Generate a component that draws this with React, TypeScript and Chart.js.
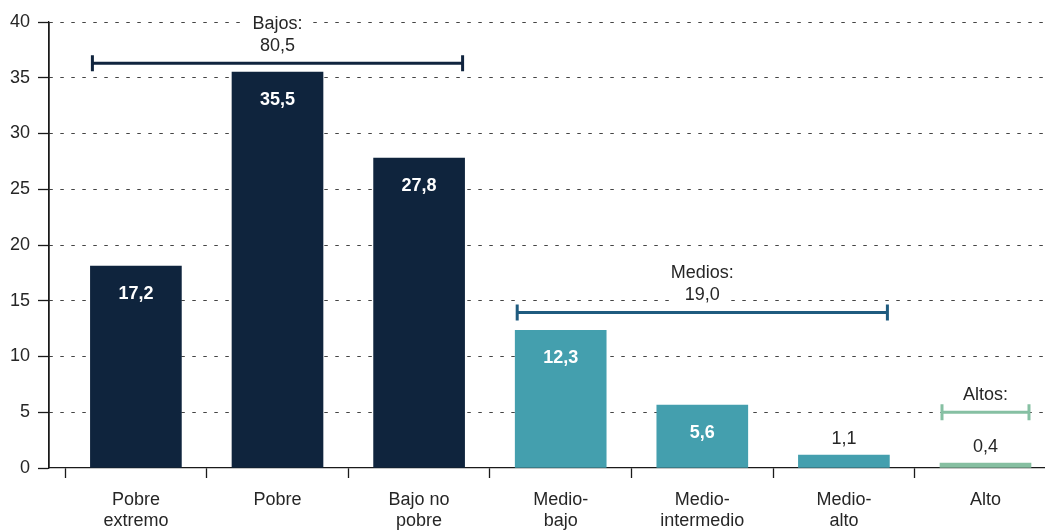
import React, { useEffect, useRef } from "react";
import { Chart, registerables } from "chart.js";

Chart.register(...registerables);

// ---- Data ----
const categories: string[][] = [
  ["Pobre", "extremo"],
  ["Pobre"],
  ["Bajo no", "pobre"],
  ["Medio-", "bajo"],
  ["Medio-", "intermedio"],
  ["Medio-", "alto"],
  ["Alto"],
];
// bar heights as drawn in the picture
const barValues: number[] = [18.1, 35.5, 27.8, 12.35, 5.65, 1.15, 0.45];
// value labels as printed
const valueLabels: string[] = ["17,2", "35,5", "27,8", "12,3", "5,6", "1,1", "0,4"];
const barColors: string[] = [
  "#0f243d", "#0f243d", "#0f243d",
  "#449fae", "#449fae", "#449fae",
  "#86bfa1",
];

const groupNames: string[] = ["Bajos:", "Medios:", "Altos:"];
const groupTotals: string[] = ["80,5", "19,0", ""];
const groupStart: number[] = [0, 3, 6];
const groupEnd: number[] = [2, 5, 6];
const groupLevel: number[] = [36.3, 13.95, 5.0];
const groupColors: string[] = ["#10243e", "#1f5b7f", "#86c0a3"];

const yTicks: number[] = [0, 5, 10, 15, 20, 25, 30, 35, 40];

const FONT = "'Liberation Sans', Arial, sans-serif";
const TEXT = "#262626";
const AXIS = "#1a1a1a";

const annotationPlugin = {
  id: "annots",
  beforeDatasetsDraw(chart: any) {
    // solid y-axis line
    const ctx = chart.ctx as CanvasRenderingContext2D;
    const a = chart.chartArea;
    ctx.save();
    ctx.setLineDash([]);
    ctx.strokeStyle = AXIS;
    ctx.lineWidth = 1.3;
    ctx.beginPath();
    ctx.moveTo(a.left, a.top);
    ctx.lineTo(a.left, a.bottom);
    ctx.stroke();
    ctx.restore();
  },
  afterDatasetsDraw(chart: any) {
    const ctx = chart.ctx as CanvasRenderingContext2D;
    const meta = chart.getDatasetMeta(0);
    const yScale = chart.scales.y;
    ctx.save();
    ctx.setLineDash([]);
    ctx.lineDashOffset = 0;
    // value labels
    meta.data.forEach((bar: any, i: number) => {
      const v = barValues[i];
      ctx.textAlign = "center";
      ctx.textBaseline = "alphabetic";
      if (v > 3) {
        ctx.font = `bold 18px ${FONT}`;
        ctx.fillStyle = "#ffffff";
        ctx.fillText(valueLabels[i], bar.x, bar.y + 33);
      } else {
        ctx.font = `18px ${FONT}`;
        ctx.fillStyle = TEXT;
        ctx.fillText(valueLabels[i], bar.x, bar.y - 11);
      }
    });
    // group brackets
    groupNames.forEach((name, g) => {
      const s = meta.data[groupStart[g]];
      const e = meta.data[groupEnd[g]];
      const x1 = s.x - s.width / 2 + 2;
      const x2 = e.x + e.width / 2 - 2;
      const y = yScale.getPixelForValue(groupLevel[g]);
      ctx.strokeStyle = groupColors[g];
      ctx.lineWidth = 3;
      ctx.lineCap = "butt";
      ctx.beginPath();
      ctx.moveTo(x1, y);
      ctx.lineTo(x2, y);
      ctx.moveTo(x1, y - 8);
      ctx.lineTo(x1, y + 8);
      ctx.moveTo(x2, y - 8);
      ctx.lineTo(x2, y + 8);
      ctx.stroke();

      const mid = meta.data[Math.floor((groupStart[g] + groupEnd[g]) / 2)];
      const lines = [name, groupTotals[g]].filter((t) => t !== "");
      ctx.font = `18px ${FONT}`;
      ctx.textAlign = "center";
      ctx.textBaseline = "alphabetic";
      lines.forEach((t, i) => {
        const base = y - 12 - (lines.length - 1 - i) * 22;
        const w = ctx.measureText(t).width;
        ctx.fillStyle = "#ffffff";
        ctx.fillRect(mid.x - w / 2 - 10, base - 15, w + 20, 19);
        ctx.fillStyle = TEXT;
        ctx.fillText(t, mid.x, base);
      });
    });
    ctx.restore();
  },
};

export default function App() {
  const ref = useRef<HTMLCanvasElement | null>(null);

  useEffect(() => {
    if (!ref.current) return;
    const xTickValues = categories.map((_, i) => i - 0.5);
    const chart = new Chart(ref.current, {
      type: "bar",
      data: {
        datasets: [
          {
            data: barValues.map((v, i) => ({ x: i, y: v })),
            backgroundColor: barColors,
            borderWidth: 0,
            barThickness: 91,
          },
        ],
      },
      plugins: [annotationPlugin],
      options: {
        animation: false,
        responsive: false,
        maintainAspectRatio: false,
        layout: { padding: { top: 22, left: 0, right: 0, bottom: 0 } },
        plugins: {
          legend: { display: false },
          tooltip: { enabled: false },
        },
        scales: {
          x: {
            type: "linear",
            min: -0.6137,
            max: 6.4202,
            offset: false,
            afterBuildTicks: (scale: any) => {
              scale.ticks = xTickValues.map((v) => ({ value: v }));
            },
            afterFit: (scale: any) => {
              scale.height = 64;
              scale.paddingLeft = 0;
              scale.paddingRight = 0;
            },
            grid: {
              offset: false,
              drawOnChartArea: false,
              drawTicks: true,
              tickLength: 10,
              tickColor: AXIS,
              tickWidth: 1.3,
              tickBorderDash: [],
            },
            border: { display: true, color: AXIS, width: 1.3 },
            ticks: {
              autoSkip: false,
              maxRotation: 0,
              minRotation: 0,
              padding: 12,
              labelOffset: 70.8,
              color: TEXT,
              font: { family: FONT, size: 18, lineHeight: 1.15 },
              callback: (_v: any, i: number) => categories[i],
            },
          },
          y: {
            min: 0,
            max: 40,
            afterBuildTicks: (scale: any) => {
              scale.ticks = yTicks.map((v) => ({ value: v }));
            },
            afterFit: (scale: any) => {
              scale.width = 49;
            },
            grid: {
              color: (c: any) => (c.tick && c.tick.value === 0 ? "rgba(0,0,0,0)" : "#444444"),
              lineWidth: 1,
              tickBorderDash: [],
              tickColor: AXIS,
              tickWidth: 1.3,
              tickLength: 11,
              drawTicks: true,
            },
            border: { display: true, color: AXIS, width: 1.3, dash: [3.5, 7.5] },
            ticks: {
              padding: 8,
              color: TEXT,
              font: { family: FONT, size: 18 },
              callback: (v: any) => String(v),
            },
          },
        },
      } as any,
    });
    return () => chart.destroy();
  }, []);

  return (
    <div style={{ position: "fixed", left: 0, top: 0, width: 1045, height: 532, background: "#fff" }}>
      <canvas ref={ref} width={1045} height={532} style={{ display: "block" }} />
    </div>
  );
}
